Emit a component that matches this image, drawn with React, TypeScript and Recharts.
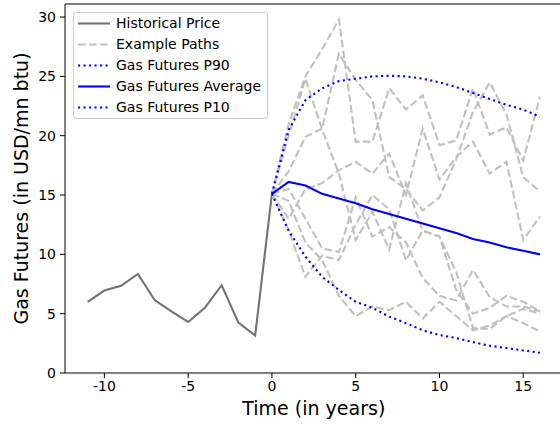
import { LineChart, Line, XAxis, YAxis, ReferenceLine, Label } from "recharts";

// historical spot price, years before today
const historyYears = [-11, -10, -9, -8, -7, -6, -5, -4, -3, -2, -1, 0];
const historyPrice = [6.0, 6.95, 7.35, 8.35, 6.15, 5.2, 4.3, 5.5, 7.4, 4.25, 3.15, 15.1];

// simulated futures, years ahead
const futureYears = [0, 1, 2, 3, 4, 5, 6, 7, 8, 9, 10, 11, 12, 13, 14, 15, 16];
const futuresP90 = [15.1, 20.5, 23.0, 24.0, 24.6, 24.8, 25.0, 25.05, 25.0, 24.8, 24.5, 24.1, 23.6, 23.1, 22.6, 22.2, 21.6];
const futuresAvg = [15.1, 16.1, 15.8, 15.1, 14.7, 14.3, 13.8, 13.4, 13.0, 12.6, 12.2, 11.8, 11.3, 11.0, 10.6, 10.3, 10.0];
const futuresP10 = [15.1, 12.0, 9.8, 8.1, 7.0, 6.0, 5.5, 4.75, 4.2, 3.6, 3.2, 2.95, 2.6, 2.3, 2.1, 1.9, 1.7];

const examplePaths = [
  [15.1, 21.0, 25.0, 27.3, 29.8, 19.5, 19.5, 24.0, 22.2, 23.4, 19.2, 19.6, 24.0, 20.1, 20.7, 17.9, 23.3],
  [15.1, 17.0, 19.9, 20.6, 26.9, 24.7, 23.0, 16.5, 15.5, 13.7, 14.8, 18.0, 22.0, 24.5, 21.8, 16.5, 15.3],
  [15.1, 13.0, 15.5, 16.0, 17.1, 17.8, 16.8, 18.5, 15.0, 20.6, 16.3, 18.2, 19.5, 16.8, 17.8, 11.2, 13.2],
  [15.1, 20.0, 24.8, 20.5, 16.8, 11.2, 13.6, 10.4, 16.0, 12.0, 11.5, 8.5, 3.8, 3.7, 4.8, 5.4, 5.0],
  [15.1, 14.5, 11.0, 9.5, 6.5, 4.8, 5.6, 5.3, 6.0, 4.6, 6.0, 4.8, 3.6, 4.0, 4.8, 4.2, 3.5],
  [15.1, 15.5, 13.0, 10.5, 10.2, 14.8, 11.5, 12.3, 11.0, 8.0, 6.5, 6.1, 8.7, 6.4, 5.6, 5.6, 5.2],
  [15.1, 12.0, 8.1, 9.9, 9.5, 12.5, 15.0, 13.8, 9.5, 12.0, 11.5, 7.0, 5.0, 5.5, 6.5, 6.0, 5.2],
];

const xTicks = [-10, -5, 0, 5, 10, 15];
const yTicks = [0, 5, 10, 15, 20, 25, 30];

const legendLabels = ["Historical Price", "Example Paths", "Gas Futures P90", "Gas Futures Average", "Gas Futures P10"];

const GREY = "#737373";
const SILVER = "#c0c0c0";
const BLUE = "#0000ff";
const DASH = "7.7 3.3";
const DOT = "2.1 3.4";

const legendStyles = [
  { stroke: GREY, dash: undefined },
  { stroke: SILVER, dash: DASH },
  { stroke: BLUE, dash: DOT },
  { stroke: BLUE, dash: undefined },
  { stroke: BLUE, dash: DOT },
];

const toPoints = (xs: number[], ys: number[]) => ys.map((v, i) => ({ t: xs[i], v }));

const FONT = "'DejaVu Sans', sans-serif";

export default function App() {
  const history = toPoints(historyYears, historyPrice);

  return (
    <div style={{ position: "absolute", left: 0, top: 0, width: 560, height: 425, overflow: "hidden", background: "#fff", fontFamily: FONT }}>
      <LineChart width={570} height={425} margin={{ top: 4, right: 7.4, bottom: 4, left: 0 }}>
        <XAxis
          type="number"
          dataKey="t"
          domain={[-12.35, 17.35]}
          ticks={xTicks}
          allowDataOverflow
          height={48}
          tickSize={5}
          tickMargin={3}
          stroke="#000"
          tick={{ fill: "#000", fontSize: 14, fontFamily: FONT }}
        >
          <Label value="Time (in years)" position="insideBottom" offset={6} style={{ fontSize: 19, fill: "#000", fontFamily: FONT }} />
        </XAxis>
        <YAxis
          type="number"
          domain={[0, 31.1]}
          ticks={yTicks}
          allowDataOverflow
          width={65}
          tickSize={5}
          tickMargin={4}
          stroke="#000"
          tick={{ fill: "#000", fontSize: 14, fontFamily: FONT }}
        >
          <Label
            value="Gas Futures (in USD/mn btu)"
            angle={-90}
            position="insideLeft"
            offset={21}
            style={{ fontSize: 19, fill: "#000", fontFamily: FONT, textAnchor: "middle" }}
          />
        </YAxis>
        <ReferenceLine y={31.1} stroke="#000" strokeWidth={1.1} />

        <Line data={history} dataKey="v" stroke={GREY} strokeWidth={2.1} dot={false} activeDot={false} isAnimationActive={false} />
        {examplePaths.map((p, i) => (
          <Line
            key={i}
            data={toPoints(futureYears, p)}
            dataKey="v"
            stroke={SILVER}
            strokeWidth={2.1}
            strokeDasharray={DASH}
            dot={false}
            activeDot={false}
            isAnimationActive={false}
          />
        ))}
        <Line data={toPoints(futureYears, futuresP90)} dataKey="v" stroke={BLUE} strokeWidth={2.1} strokeDasharray={DOT} dot={false} activeDot={false} isAnimationActive={false} />
        <Line data={toPoints(futureYears, futuresAvg)} dataKey="v" stroke={BLUE} strokeWidth={2.1} dot={false} activeDot={false} isAnimationActive={false} />
        <Line data={toPoints(futureYears, futuresP10)} dataKey="v" stroke={BLUE} strokeWidth={2.1} strokeDasharray={DOT} dot={false} activeDot={false} isAnimationActive={false} />
      </LineChart>

      <div
        style={{
          position: "absolute",
          left: 73,
          top: 12,
          width: 195,
          height: 107,
          boxSizing: "border-box",
          border: "1px solid #cccccc",
          borderRadius: 3,
          background: "rgba(255,255,255,0.8)",
        }}
      >
        {legendLabels.map((name, i) => (
          <div key={name} style={{ position: "absolute", left: 0, top: 21 * i, height: 21, lineHeight: "21px", whiteSpace: "nowrap" }}>
            <svg width={34} height={21} style={{ position: "absolute", left: 3, top: 0 }}>
              <line x1={1} y1={10.5} x2={33} y2={10.5} stroke={legendStyles[i].stroke} strokeWidth={2.1} strokeDasharray={legendStyles[i].dash} />
            </svg>
            <span style={{ position: "absolute", left: 42, top: 0, fontSize: 14, color: "#000" }}>{name}</span>
          </div>
        ))}
      </div>
    </div>
  );
}
